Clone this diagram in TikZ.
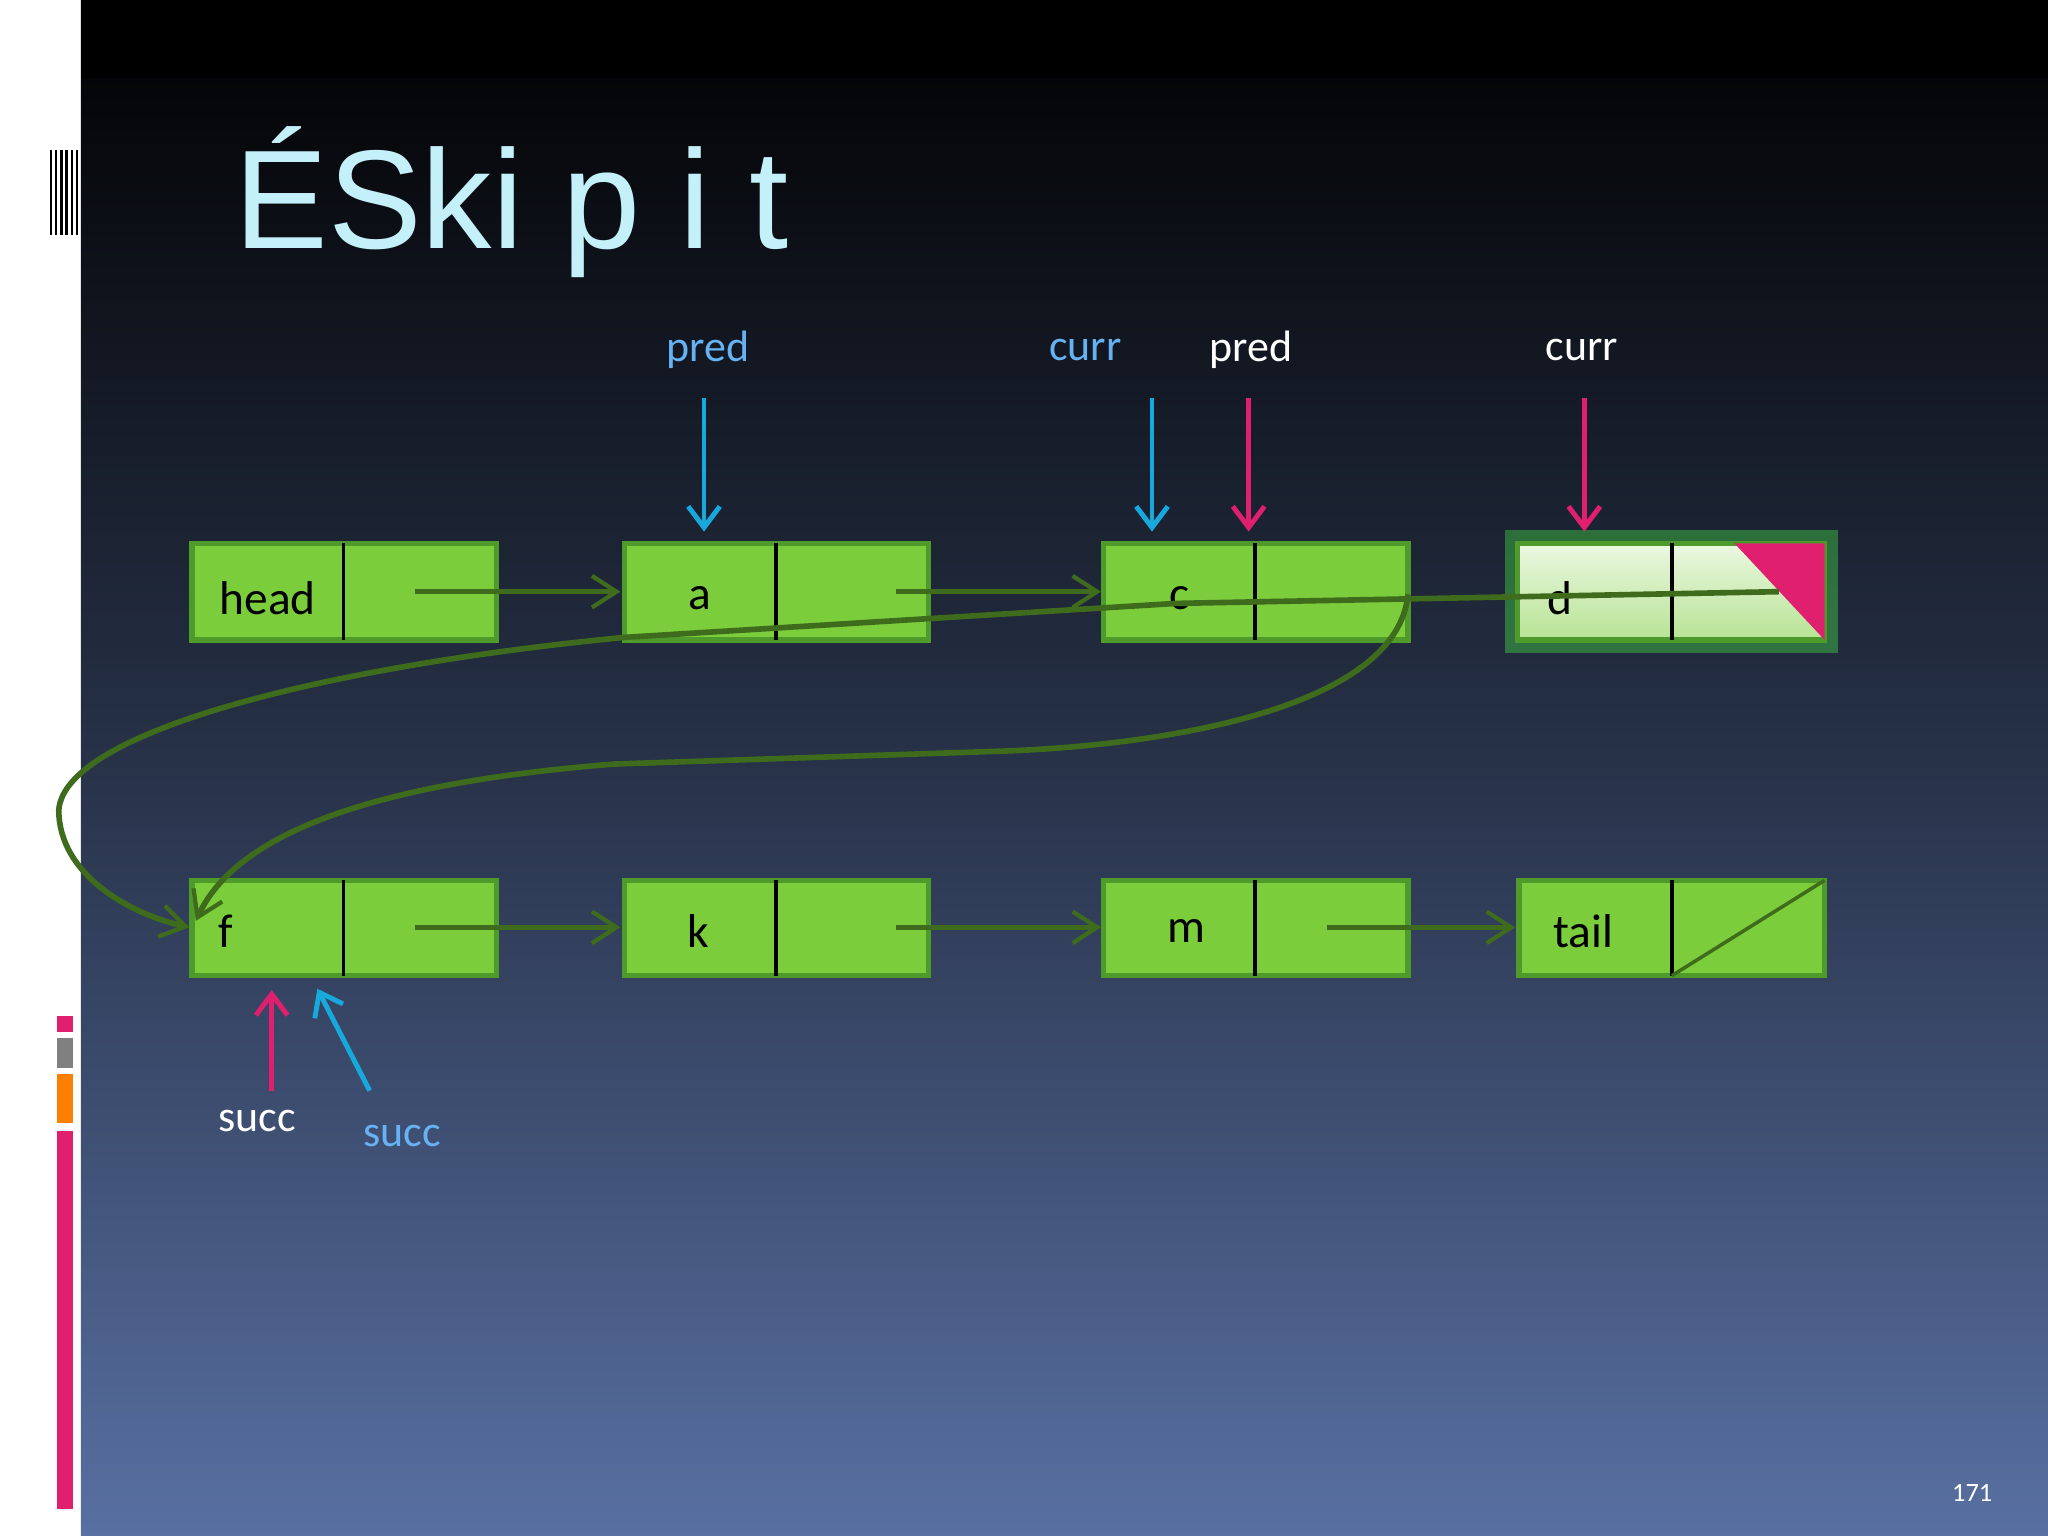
\documentclass[tikz,border=0pt]{standalone}
\usepackage{fontspec}
\setmainfont{Carlito}
\newfontfamily\titlefont{Liberation Sans}
\usetikzlibrary{arrows.meta}
\definecolor{bgtop}{HTML}{000000}
\definecolor{bgbot}{HTML}{5870A2}
\definecolor{boxg}{HTML}{7CCD3C}
\definecolor{boxe}{HTML}{4E9A2A}
\definecolor{lnk}{HTML}{3E6B1C}
\definecolor{cyn}{HTML}{17A8DC}
\definecolor{pnk}{HTML}{E0206F}
\definecolor{lblue}{HTML}{66B2F2}
\definecolor{ttl}{HTML}{C4F0FA}
\begin{document}
\begin{tikzpicture}[x=0.013061cm,y=-0.013061cm,
 cell/.style={draw=boxe,line width=1.5pt,fill=boxg},
 lbl/.style={font=\fontsize{13.5}{15}\selectfont},
 ptr/.style={font=\fontsize{12.5}{14}\selectfont},
 link/.style={draw=lnk,line width=1.6pt,-{Straight Barb[length=7pt,width=9pt,line width=1.2pt]}},
 pa/.style={line width=1.4pt,-{Straight Barb[length=6pt,width=9pt]}}]
\useasboundingbox (0,0) rectangle (1568,1176);
\fill[white] (0,0) rectangle (62,1176);
\shade[top color=bgtop,bottom color=bgbot,middle color=bgtop!55!bgbot] (62,0) rectangle (1568,1176);
\fill[bgtop] (62,0) rectangle (1568,60);
% left decor
\foreach \x in {38,42,46,50,54,58} \fill[black] (\x,115) rectangle (\x+2,180);
\fill[pnk] (44,778) rectangle (56,790);
\fill[gray] (44,795) rectangle (56,818);
\fill[orange] (44,822) rectangle (56,860);
\fill[pnk] (44,866) rectangle (56,1155);
\node[anchor=west,text=ttl,font=\titlefont\fontsize{40}{44}\selectfont] (title) at (170,155) {ÉSki p i t};
% row 1
\foreach \n/\x/\t in {h/147/head,a/478/a,c/845/c}{
 \draw[cell] (\x,416) rectangle (\x+233,490);
 \draw[black,line width=1pt] (\x+116,416) -- (\x+116,490);
 \node[lbl] (\n) at (\x+58,458) {\t};
}
\node[lbl] at (210,458) {};
\fill[green!70!white,opacity=.35] (1152,406) rectangle (1407,500);
\shade[top color=white!85!boxg,bottom color=boxg!55!white,draw=boxe,line width=1.5pt] (1162,416) rectangle (1397,490);
\draw[boxe,line width=1.5pt] (1162,416) rectangle (1397,490);
\draw[black,line width=1pt] (1280,416) -- (1280,490);
\fill[pnk] (1328,416) -- (1397,416) -- (1397,490) -- cycle;
\node[lbl,anchor=west] (d) at (1175,458) {d};
% row 2
\foreach \n/\x/\t in {f/147,k/478,m/845}{
 \draw[cell] (\x,674) rectangle (\x+233,747);
 \draw[black,line width=1pt] (\x+116,674) -- (\x+116,747);
}
\node[lbl,anchor=west] (f) at (158,713) {f};
\node[lbl] (k) at (535,713) {k};
\node[lbl] (m) at (908,713) {m};
\draw[cell] (1163,674) rectangle (1397,747);
\draw[black,line width=1pt] (1280,674) -- (1280,747);
\draw[lnk,line width=1pt] (1280,747) -- (1397,674);
\node[lbl] (tail) at (1212,713) {tail};
% links
\coordinate (h1) at (318,453); \coordinate (a0) at (475,453);
\coordinate (a1) at (686,453); \coordinate (c0) at (843,453);
\coordinate (f1) at (318,710); \coordinate (k0) at (475,710);
\coordinate (k1) at (686,710); \coordinate (m0) at (843,710);
\coordinate (m1) at (1016,710); \coordinate (t0) at (1160,710);
\coordinate (d1) at (1362,453); \coordinate (c1) at (1078,455);
\coordinate (fin) at (145,710);
\draw[link] (h1) -- (a0);
\draw[link] (a1) -- (c0);
\draw[link] (f1) -- (k0);
\draw[link] (k1) -- (m0);
\draw[link] (m1) -- (t0);
\draw[link] (d1) -- (900,462) -- (478,488) .. controls (250,510) and (50,560) .. (45,620) .. controls (45,670) and (100,700) .. (fin);
\draw[link] (c1) .. controls (1070,540) and (900,570) .. (770,575) -- (470,585) .. controls (280,600) and (180,640) .. (150,705);
% pointers
\node[ptr,text=lblue] (p1) at (542,268) {pred};
\node[ptr,text=lblue] (c1l) at (831,268) {curr};
\node[ptr,text=white] (p2) at (958,268) {pred};
\node[ptr,text=white] (c2l) at (1211,268) {curr};
\coordinate (p1a) at (539,305); \coordinate (p1b) at (539,407);
\coordinate (c1a) at (882,305); \coordinate (c1b) at (882,407);
\coordinate (p2a) at (956,305); \coordinate (p2b) at (956,407);
\coordinate (c2a) at (1213,305); \coordinate (c2b) at (1213,407);
\draw[pa,cyn] (p1a) -- (p1b);
\draw[pa,cyn] (c1a) -- (c1b);
\draw[pa,pnk] (p2a) -- (p2b);
\draw[pa,pnk] (c2a) -- (c2b);
\coordinate (s1a) at (208,835); \coordinate (s1b) at (208,758);
\coordinate (s2a) at (283,835); \coordinate (s2b) at (243,757);
\draw[pa,pnk] (s1a) -- (s1b);
\draw[pa,cyn] (s2a) -- (s2b);
\node[ptr,text=white] (sa) at (197,858) {succ};
\node[ptr,text=lblue] (sb) at (308,870) {succ};
\node[text=white,font=\fontsize{7.5}{9}\selectfont] (pg) at (1510,1143) {171};
\end{tikzpicture}
\end{document}
